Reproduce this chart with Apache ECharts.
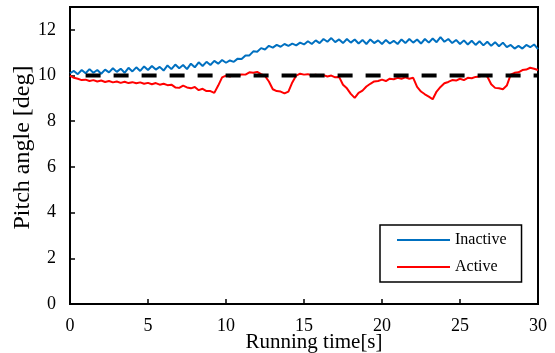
<!DOCTYPE html>
<html>
<head>
<meta charset="utf-8">
<script src="https://cdn.jsdelivr.net/npm/echarts@6/dist/echarts.min.js"></script>
<style>html,body{margin:0;padding:0;background:#fff}#c{width:555px;height:353px}</style>
</head>
<body>
<div id="c"></div>
<script>
const timeS = [0,0.25,0.5,0.75,1,1.25,1.5,1.75,2,2.25,2.5,2.75,3,3.25,3.5,3.75,4,4.25,4.5,4.75,5,5.25,5.5,5.75,6,6.25,6.5,6.75,7,7.25,7.5,7.75,8,8.25,8.5,8.75,9,9.25,9.5,9.75,10,10.25,10.5,10.75,11,11.25,11.5,11.75,12,12.25,12.5,12.75,13,13.25,13.5,13.75,14,14.25,14.5,14.75,15,15.25,15.5,15.75,16,16.25,16.5,16.75,17,17.25,17.5,17.75,18,18.25,18.5,18.75,19,19.25,19.5,19.75,20,20.25,20.5,20.75,21,21.25,21.5,21.75,22,22.25,22.5,22.75,23,23.25,23.5,23.75,24,24.25,24.5,24.75,25,25.25,25.5,25.75,26,26.25,26.5,26.75,27,27.25,27.5,27.75,28,28.25,28.5,28.75,29,29.25,29.5,29.75,30];

const inactive = [10.10,10.20,10.06,10.24,10.10,10.28,10.12,10.24,10.08,10.26,10.14,10.32,10.16,10.30,10.12,10.34,10.18,10.36,10.20,10.40,
10.24,10.42,10.26,10.38,10.22,10.44,10.28,10.48,10.32,10.46,10.28,10.52,10.36,10.58,10.42,10.60,10.46,10.64,10.52,10.68,
10.56,10.66,10.60,10.74,10.72,10.88,10.88,11.06,11.04,11.20,11.14,11.30,11.22,11.34,11.26,11.38,11.30,11.40,11.32,11.44,
11.36,11.50,11.38,11.54,11.42,11.60,11.48,11.64,11.46,11.58,11.42,11.60,11.44,11.58,11.40,11.56,11.38,11.58,11.42,11.54,
11.38,11.56,11.40,11.52,11.38,11.58,11.42,11.60,11.44,11.58,11.40,11.60,11.44,11.62,11.46,11.68,11.48,11.60,11.42,11.56,
11.38,11.54,11.36,11.52,11.34,11.50,11.32,11.48,11.30,11.46,11.28,11.44,11.24,11.34,11.18,11.30,11.18,11.34,11.24,11.36,11.16];

const active = [10.00,9.90,9.86,9.80,9.82,9.76,9.80,9.74,9.78,9.72,9.76,9.70,9.74,9.68,9.73,9.67,9.71,9.66,9.70,9.64,
9.68,9.62,9.67,9.60,9.64,9.58,9.60,9.48,9.46,9.56,9.48,9.44,9.50,9.36,9.42,9.32,9.32,9.24,9.56,9.92,
10.00,9.96,10.03,9.98,10.05,10.04,10.14,10.12,10.16,10.06,9.98,9.74,9.40,9.32,9.30,9.22,9.30,9.70,10.00,10.08,
10.04,10.06,10.00,10.04,9.98,10.02,9.96,10.00,9.92,9.94,9.60,9.44,9.20,9.02,9.24,9.34,9.52,9.64,9.74,9.76,
9.82,9.76,9.86,9.84,9.90,9.86,9.92,9.86,9.90,9.50,9.30,9.18,9.08,8.96,9.30,9.50,9.66,9.72,9.80,9.78,
9.86,9.80,9.90,9.88,9.94,9.96,10.02,9.96,9.62,9.46,9.44,9.40,9.56,10.04,10.12,10.14,10.24,10.26,10.34,10.30,10.24];

const refTime = [1, 30];
const refValue = [10, 10];

const seriesNames = ['Inactive', 'Active'];
const xTicks = [0, 5, 10, 15, 20, 25, 30];
const yTicks = [0, 2, 4, 6, 8, 10, 12];

const FONT = "'Times New Roman', 'Liberation Serif', serif";
const zip = (a, b) => a.map((v, i) => [v, b[i]]);

const chart = echarts.init(document.getElementById('c'), null, {renderer: 'canvas'});
chart.setOption({
  animation: false,
  backgroundColor: '#fff',
  grid: {left: 70, right: 17, top: 7, bottom: 49, containLabel: false, outerBoundsMode: 'none',
         show: true, borderColor: '#000', borderWidth: 2, backgroundColor: 'transparent'},
  legend: {
    data: seriesNames,
    orient: 'vertical',
    left: 380, top: 225,
    itemWidth: 53, itemHeight: 14, itemGap: 11,
    padding: [7, 15, 7, 16],
    borderColor: '#000', borderWidth: 1.5,
    itemStyle: {opacity: 0},
    textStyle: {fontFamily: FONT, fontSize: 16, color: '#000'}
  },
  xAxis: {
    type: 'value', min: xTicks[0], max: xTicks[xTicks.length - 1], interval: 5,
    name: 'Running time[s]', nameLocation: 'middle', nameGap: 28, nameMoveOverlap: false,
    nameTextStyle: {fontFamily: FONT, fontSize: 21, color: '#000', padding: [0, 0, 0, 20]},
    axisLine: {lineStyle: {color: '#000', width: 2}},
    axisTick: {inside: true, length: 5, lineStyle: {color: '#000', width: 1.5}},
    axisLabel: {fontFamily: FONT, fontSize: 18, color: '#000', margin: 13},
    splitLine: {show: false}
  },
  yAxis: {
    type: 'value', min: yTicks[0], max: 13, interval: 2,
    name: 'Pitch angle [deg]', nameLocation: 'middle', nameGap: 35, nameMoveOverlap: false,
    nameTextStyle: {fontFamily: FONT, fontSize: 24, color: '#000', padding: [0, 0, 0, 16]},
    axisLine: {lineStyle: {color: '#000', width: 2}},
    axisTick: {inside: true, length: 5, lineStyle: {color: '#000', width: 1.5}},
    axisLabel: {fontFamily: FONT, fontSize: 18, color: '#000', margin: 14, showMaxLabel: false,
      formatter: v => (yTicks.indexOf(v) >= 0 ? String(v) : '')},
    splitLine: {show: false}
  },
  series: [
    {name: seriesNames[0], type: 'line', data: zip(timeS, inactive), showSymbol: false, symbol: 'none',
     lineStyle: {color: '#0070C0', width: 2}, itemStyle: {color: '#0070C0'}, z: 3},
    {name: seriesNames[1], type: 'line', data: zip(timeS, active), showSymbol: false, symbol: 'none',
     lineStyle: {color: '#FF0000', width: 2}, itemStyle: {color: '#FF0000'}, z: 3},
    {name: 'ref', type: 'line', data: zip(refTime, refValue), showSymbol: false, symbol: 'none',
     lineStyle: {color: '#000', width: 4, type: [15, 13]}, z: 4}
  ]
});
</script>
</body>
</html>
